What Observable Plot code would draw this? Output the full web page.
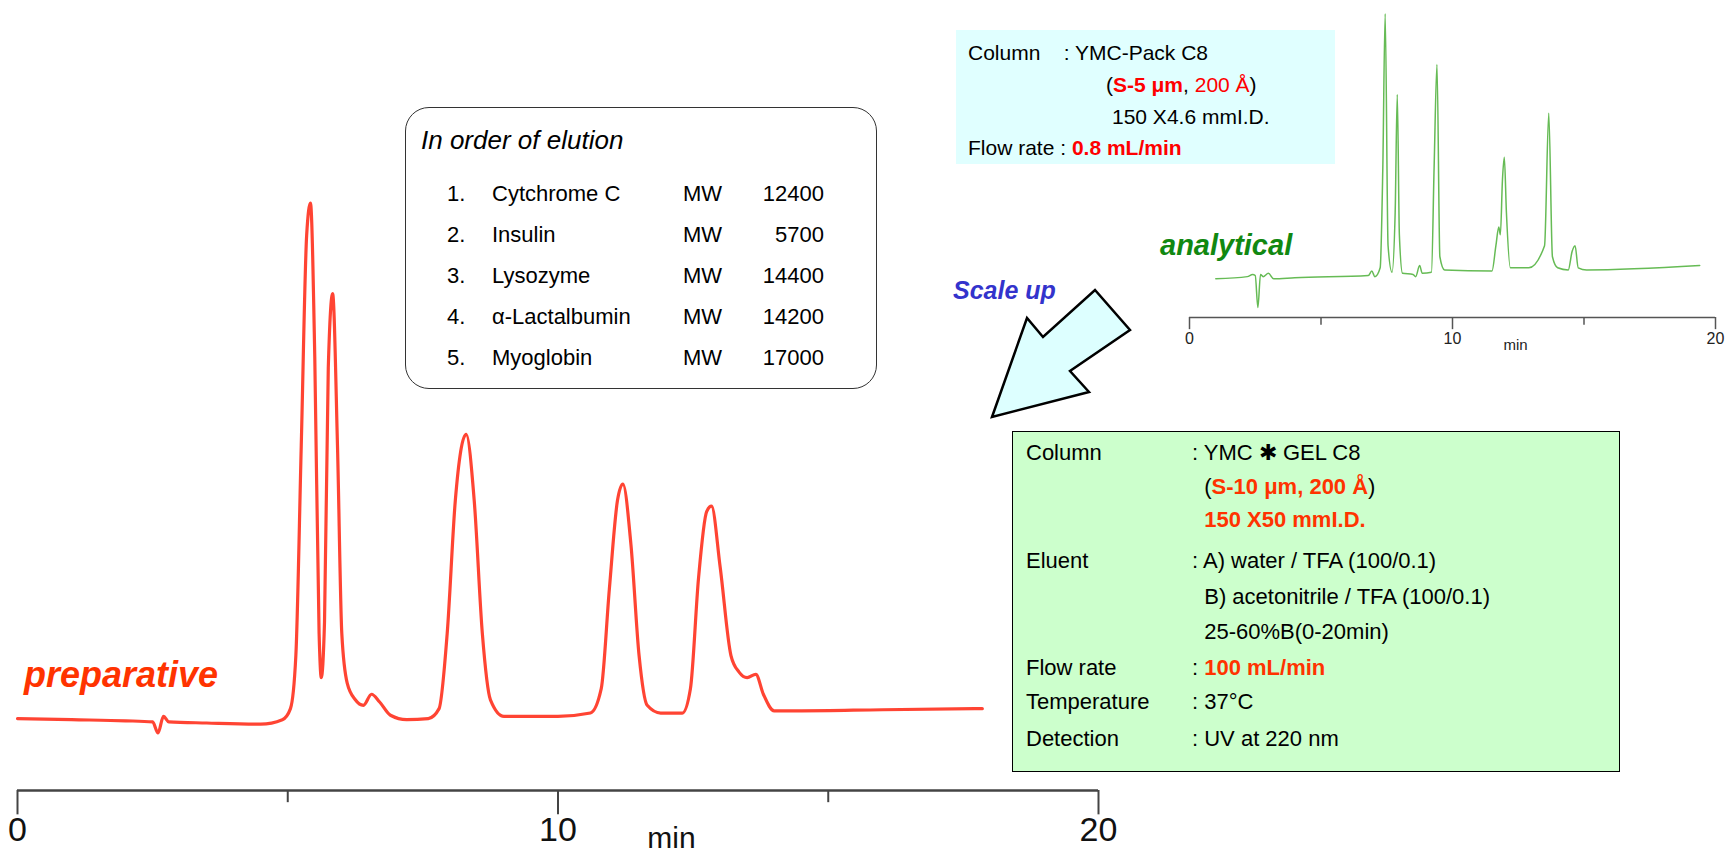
<!DOCTYPE html>
<html>
<head>
<meta charset="utf-8">
<script src="https://cdn.jsdelivr.net/npm/d3@7"></script>
<script src="https://cdn.jsdelivr.net/npm/@observablehq/plot@0.6"></script>
<style>
  body { margin: 0; background: #fff; font-family: "Liberation Sans", Arial, sans-serif; }
  #wrap { position: relative; width: 1725px; height: 856px; overflow: hidden; }
  .box { position: absolute; box-sizing: border-box; }
  .ln { position: absolute; white-space: nowrap; line-height: 1; transform: translateY(-50%); }
  .red { color: #ff0000; }
  .or { color: #ff3300; font-weight: bold; }
</style>
</head>
<body>
<div id="wrap">
  <div id="main" style="position:absolute;left:0;top:0"></div>
  <div id="inset" style="position:absolute;left:0;top:0"></div>

  <svg width="1725" height="856" style="position:absolute;left:0;top:0">
    <polygon points="992,417 1027,318 1043,337 1095,290 1130,330 1070,371 1089,392"
      fill="#ddffff" stroke="#000" stroke-width="2.5" stroke-linejoin="miter"/>
  </svg>

  <!-- elution order box -->
  <div class="box" style="left:405px;top:107px;width:472px;height:282px;border:1.5px solid #333;border-radius:24px;background:#fff"></div>
  <div class="ln" style="left:421px;top:140px;font-size:26px;font-style:italic">In order of elution</div>
  <div id="elution"></div>

  <!-- analytical conditions -->
  <div class="box" style="left:956px;top:30px;width:379px;height:134px;background:#e0ffff"></div>
  <div class="ln" style="left:968px;top:52px;font-size:21px">Column&nbsp;&nbsp;&nbsp;&nbsp;: YMC-Pack C8</div>
  <div class="ln" style="left:1106px;top:84px;font-size:21px">(<b class="red">S-5 μm</b>, <span class="red">200 Å</span>)</div>
  <div class="ln" style="left:1112px;top:116px;font-size:21px">150 X4.6 mmI.D.</div>
  <div class="ln" style="left:968px;top:147px;font-size:21px">Flow rate : <b class="red">0.8 mL/min</b></div>

  <div class="ln" style="left:1160px;top:245px;font-size:29px;font-weight:bold;font-style:italic;color:#118811">analytical</div>
  <div class="ln" style="left:953px;top:290px;font-size:25px;font-weight:bold;font-style:italic;color:#3333cc">Scale up</div>
  <div class="ln" style="left:24px;top:675px;font-size:36px;font-weight:bold;font-style:italic;color:#ff3300">preparative</div>

  <!-- preparative conditions -->
  <div class="box" style="left:1012px;top:431px;width:608px;height:341px;background:#ccffcc;border:1.5px solid #000"></div>
  <div id="prepcond"></div>
</div>

<script>
// preparative trace (min, signal)
const prepTime = [0,1,2,2.5,2.6,2.7,2.8,3.5,4.5,4.9,5.05,5.15,5.25,5.35,5.42,5.5,5.58,5.62,5.68,5.75,5.83,5.92,6.0,6.1,6.25,6.4,6.55,6.7,6.9,7.2,7.6,7.8,7.95,8.1,8.3,8.45,8.6,8.75,9,10,10.6,10.8,10.95,11.1,11.2,11.35,11.5,11.65,11.9,12.3,12.45,12.6,12.75,12.84,13.0,13.2,13.35,13.5,13.66,13.8,14.0,14.5,16,17.85];
const prepSignal = [3,2,1,0,-10,5,0,-1,-2,2,12,60,250,440,469,330,80,40,90,320,387,250,80,35,20,15,25,18,6,2,3,12,80,200,260,200,80,20,5,5,8,30,120,200,215,160,60,15,8,8,30,130,190,195,140,60,45,40,43,25,10,10,11,12];

// analytical trace (min, signal)
const anaTime = [1,2.2,2.4,2.5,2.6,2.7,2.8,3.0,3.2,4,6.8,6.93,7.05,7.25,7.35,7.44,7.55,7.7,7.82,7.9,7.98,8.1,8.5,8.6,8.75,8.85,9.2,9.3,9.41,9.52,9.7,11.5,11.65,11.76,11.82,11.9,11.97,12.05,12.2,12.9,13.5,13.66,13.8,14.0,14.4,14.55,14.66,14.78,15.1,19.4];
const anaSignal = [0,2,4,3,-26,4,2,5,0,1,3,7,2,10,100,240,30,6,60,167,40,5,4,2,12,5,6,100,194,20,8,7,30,47,40,90,110,60,10,10,30,150,20,10,8,25,30,10,8,12];

const majorTicks = [0, 10, 20];
const minorTicks = [5, 15];

const elution = [
  ["1.", "Cytchrome C", "MW", "12400"],
  ["2.", "Insulin", "MW", "5700"],
  ["3.", "Lysozyme", "MW", "14400"],
  ["4.", "α-Lactalbumin", "MW", "14200"],
  ["5.", "Myoglobin", "MW", "17000"]
];

const prepLabels = ["Column", "", "", "Eluent", "", "", "Flow rate", "Temperature", "Detection"];
const prepValues = [
  ": YMC ✱ GEL C8",
  "&nbsp;&nbsp;(<span class='or'>S-10 μm, 200 Å</span>)",
  "&nbsp;&nbsp;<span class='or'>150 X50 mmI.D.</span>",
  ": A) water / TFA (100/0.1)",
  "&nbsp;&nbsp;B) acetonitrile / TFA (100/0.1)",
  "&nbsp;&nbsp;25-60%B(0-20min)",
  ": <span class='or'>100 mL/min</span>",
  ": 37°C",
  ": UV at 220 nm"
];

const pts = (t, s) => t.map((x, i) => ({t: x, s: s[i]}));

// main chart
const mainPlot = Plot.plot({
  width: 1725, height: 856,
  marginLeft: 17, marginRight: 627, marginTop: 0, marginBottom: 66,
  x: {domain: [0, 20], axis: null},
  y: {domain: [-62, 652], axis: null},
  style: {background: "transparent"},
  marks: [
    Plot.line(pts(prepTime, prepSignal), {x: "t", y: "s", stroke: "#ff4433", strokeWidth: 3.2, curve: "monotone-x"}),
    Plot.ruleY([-62], {x1: 0, x2: 20, stroke: "#444", strokeWidth: 2.5}),
    Plot.ruleX(majorTicks, {x: d => d, y1: -62, y2: -84, stroke: "#444", strokeWidth: 2}),
    Plot.ruleX(minorTicks, {x: d => d, y1: -62, y2: -73, stroke: "#444", strokeWidth: 2}),
    Plot.text(majorTicks, {x: d => d, y: -62, dy: 40, text: d => String(d), fontSize: 34, fill: "#111", fontFamily: "Liberation Sans"}),
    Plot.text(["min"], {x: 12.1, y: -62, dy: 48, text: d => d, fontSize: 30, fill: "#111", fontFamily: "Liberation Sans"})
  ]
});
document.getElementById("main").append(mainPlot);

// analytical inset
const insetPlot = Plot.plot({
  width: 1725, height: 360,
  marginLeft: 1189, marginRight: 10, marginTop: 0, marginBottom: 43,
  x: {domain: [0, 20], axis: null},
  y: {domain: [-35, 252], axis: null},
  style: {background: "transparent"},
  marks: [
    Plot.line(pts(anaTime, anaSignal), {x: "t", y: "s", stroke: "#66bb55", strokeWidth: 1.5, curve: "monotone-x"}),
    Plot.ruleY([-35], {x1: 0, x2: 20, stroke: "#555", strokeWidth: 1.5}),
    Plot.ruleX(majorTicks, {x: d => d, y1: -35, y2: -46, stroke: "#555", strokeWidth: 1.5}),
    Plot.ruleX(minorTicks, {x: d => d, y1: -35, y2: -42, stroke: "#555", strokeWidth: 1.5}),
    Plot.text(majorTicks, {x: d => d, y: -35, dy: 21, text: d => String(d), fontSize: 16, fill: "#222", fontFamily: "Liberation Sans"}),
    Plot.text(["min"], {x: 12.4, y: -35, dy: 28, text: d => d, fontSize: 15, fill: "#222", fontFamily: "Liberation Sans"})
  ]
});
document.getElementById("inset").append(insetPlot);

// boxes text
const el = d3.select("#elution");
elution.forEach((r, i) => {
  const y = 194 + i * 41;
  el.append("div").attr("class", "ln").style("left", "447px").style("top", y + "px").style("font-size", "22px").text(r[0]);
  el.append("div").attr("class", "ln").style("left", "492px").style("top", y + "px").style("font-size", "22px").text(r[1]);
  el.append("div").attr("class", "ln").style("left", "683px").style("top", y + "px").style("font-size", "22px").text(r[2]);
  el.append("div").attr("class", "ln").style("left", "744px").style("top", y + "px").style("width", "80px").style("text-align", "right").style("font-size", "22px").text(r[3]);
});

const pc = d3.select("#prepcond");
const rowsY = [453, 487, 520, 561, 597, 632, 668, 702, 739];
prepLabels.forEach((l, i) => {
  pc.append("div").attr("class", "ln").style("left", "1026px").style("top", rowsY[i] + "px").style("font-size", "22px").text(l);
  pc.append("div").attr("class", "ln").style("left", "1192px").style("top", rowsY[i] + "px").style("font-size", "22px").html(prepValues[i]);
});
</script>
</body>
</html>
